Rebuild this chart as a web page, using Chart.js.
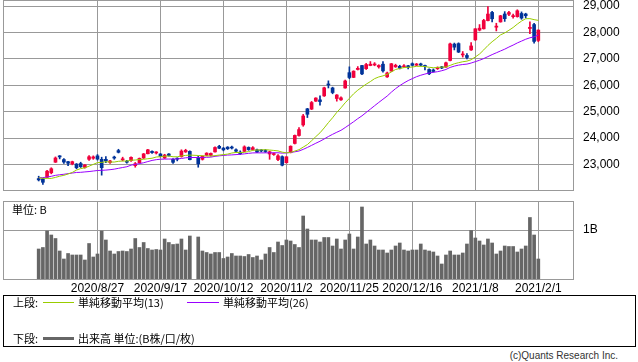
<!DOCTYPE html>
<html>
<head>
<meta charset="utf-8">
<script src="https://cdn.jsdelivr.net/npm/chart.js@4.4.1/dist/chart.umd.min.js"></script>
<style>
  body { margin: 0; width: 638px; height: 362px; background: #fff; position: relative; overflow: hidden;
         font-family: "Liberation Sans", Arial, "Noto Sans CJK JP", sans-serif; color: #000; }
  canvas { position: absolute; left: 0; }
  #price { top: 0; }
  #vol { top: 191px; }
  .txt { position: absolute; font-size: 11px; line-height: 13px; white-space: nowrap;
         font-family: "Noto Sans CJK JP", "Liberation Sans", sans-serif; }
  .ln { position: absolute; height: 1px; }
  #legend { position: absolute; left: 3px; top: 295px; width: 631px; height: 50px; border: 1px solid #000; }
  #copy { position: absolute; right: 20px; top: 350px; font-size: 10px; color: #333; font-family: "Liberation Sans", Arial, sans-serif; }
</style>
</head>
<body>
<canvas id="price" width="638" height="191"></canvas>
<canvas id="vol" width="638" height="104"></canvas>
<div class="txt" style="left:12px;top:203px;">単位: B</div>
<div id="legend"></div>
<div class="txt" style="left:13px;top:296px;">上段:</div>
<div class="ln" style="left:43px;top:302px;width:31px;background:#99cc00;"></div>
<div class="txt" style="left:78px;top:296px;">単純移動平均(13)</div>
<div class="ln" style="left:187px;top:302px;width:32px;background:#9900ff;"></div>
<div class="txt" style="left:223px;top:296px;">単純移動平均(26)</div>
<div class="txt" style="left:13px;top:332px;">下段:</div>
<div class="ln" style="left:43px;top:337px;width:31px;height:3px;background:#666;"></div>
<div class="txt" style="left:78px;top:332px;">出来高 単位:(B株/口/枚)</div>
<div id="copy">(c)Quants Research Inc.</div>
<script>
// 日付 (2020/8/6 〜 2021/2/1, 10/1 は売買停止)
const dates = [
  '2020/8/6','2020/8/7','2020/8/11','2020/8/12','2020/8/13','2020/8/14','2020/8/17','2020/8/18','2020/8/19','2020/8/20',
  '2020/8/21','2020/8/24','2020/8/25','2020/8/26','2020/8/27','2020/8/28','2020/8/31','2020/9/1','2020/9/2','2020/9/3',
  '2020/9/4','2020/9/7','2020/9/8','2020/9/9','2020/9/10','2020/9/11','2020/9/14','2020/9/15','2020/9/16','2020/9/17',
  '2020/9/18','2020/9/23','2020/9/24','2020/9/25','2020/9/28','2020/9/29','2020/9/30','2020/10/1','2020/10/2','2020/10/5',
  '2020/10/6','2020/10/7','2020/10/8','2020/10/9','2020/10/12','2020/10/13','2020/10/14','2020/10/15','2020/10/16','2020/10/19',
  '2020/10/20','2020/10/21','2020/10/22','2020/10/23','2020/10/26','2020/10/27','2020/10/28','2020/10/29','2020/10/30','2020/11/2',
  '2020/11/4','2020/11/5','2020/11/6','2020/11/9','2020/11/10','2020/11/11','2020/11/12','2020/11/13','2020/11/16','2020/11/17',
  '2020/11/18','2020/11/19','2020/11/20','2020/11/24','2020/11/25','2020/11/26','2020/11/27','2020/11/30','2020/12/1','2020/12/2',
  '2020/12/3','2020/12/4','2020/12/7','2020/12/8','2020/12/9','2020/12/10','2020/12/11','2020/12/14','2020/12/15','2020/12/16',
  '2020/12/17','2020/12/18','2020/12/21','2020/12/22','2020/12/23','2020/12/24','2020/12/25','2020/12/28','2020/12/29','2020/12/30',
  '2021/1/4','2021/1/5','2021/1/6','2021/1/7','2021/1/8','2021/1/12','2021/1/13','2021/1/14','2021/1/15','2021/1/18',
  '2021/1/19','2021/1/20','2021/1/21','2021/1/22','2021/1/25','2021/1/26','2021/1/27','2021/1/28','2021/1/29','2021/2/1'
];
const open = [
  22470,22460,22520,22690,23090,23330,23190,23110,23030,23020, 23040,22890,23200,23240,23330,23200,23200,23080,23260,23530,
  23180,23120,23150,22960,23070,23250,23410,23500,23440,23400, 23250,23400,23200,23230,23300,23480,23500,null,23270,23200,
  23350,23350,23480,23690,23620,23660,23660,23560,23470,23500, 23650,23570,23560,23540,23520,23400,23380,23190,23300,23070,
  23450,23800,24100,24500,25110,25100,25400,25450,25600,26050, 25900,25500,25450,25900,26480,26300,26600,26750,26630,26750,
  26770,26700,26800,26320,26540,26700,26720,26700,26740,26820, 26760,26810,26740,26600,26580,26630,26700,26690,26940,27560,
  27580,27150,27130,27340,27720,28090,28140,28450,28760,28200, 28400,28700,28690,28600,28600,28720,28700,28150,28300,27700
];
const high = [
  22560,22480,22780,22880,23290,23340,23230,23120,23130,23040, 23090,23000,23340,23330,23380,23280,23300,23160,23320,23580,
  23280,23160,23290,23080,23250,23420,23580,23520,23490,23420, 23390,23420,23230,23260,23560,23580,23520,null,23320,23330,
  23450,23440,23670,23730,23650,23680,23700,23600,23520,23710, 23670,23680,23590,23570,23570,23510,23440,23380,23330,23300,
  23710,24120,24400,24900,25130,25390,25530,25600,25930,26170, 25930,25650,25560,26200,26700,26550,26710,26760,26830,26900,
  26860,26780,26900,26500,26830,26800,26760,26790,26760,26850, 26830,26840,26770,26620,26620,26700,26720,26880,27600,27600,
  27610,27280,27200,27620,28150,28300,28500,28980,28800,28350, 28650,28790,28800,28700,28860,28780,28730,28400,28350,28100
];
const low = [
  22380,22250,22500,22650,23080,23215,23040,22960,22990,22840, 22890,22860,23160,23200,23170,22600,23070,23040,23200,23440,
  23140,23050,23120,22900,23050,23230,23400,23420,23400,23290, 23230,23320,23040,23140,23280,23460,23180,null,22900,23170,
  23330,23320,23470,23600,23520,23570,23590,23470,23380,23490, 23540,23550,23450,23480,23460,23200,23350,23150,22950,23060,
  23440,23780,24080,24450,24780,25080,25390,25250,25580,25900, 25680,25400,25430,25890,26250,26290,26580,26400,26600,26740,
  26740,26650,26500,26300,26530,26680,26620,26680,26620,26730, 26740,26730,26580,26400,26500,26600,26630,26680,26920,27340,
  27240,27070,27000,27320,27700,28060,28130,28440,28400,28060, 28390,28420,28640,28540,28580,28500,28550,27960,27600,27650
];
const close = [
  22420,22330,22750,22843,23250,23289,23096,23051,23110,22880, 22920,22985,23296,23290,23208,22882,23139,23138,23247,23465,
  23205,23089,23274,23032,23235,23406,23559,23454,23475,23319, 23360,23346,23087,23204,23511,23539,23185,null,23029,23312,
  23433,23422,23647,23619,23558,23601,23626,23507,23410,23671, 23567,23639,23474,23516,23494,23485,23418,23331,22977,23295,
  23695,24105,24325,24839,24905,25349,25520,25385,25906,26014, 25728,25634,25527,26165,26296,26537,26644,26433,26787,26800,
  26809,26751,26547,26467,26817,26756,26652,26732,26687,26757, 26806,26763,26714,26436,26524,26668,26656,26854,27568,27444,
  27258,27158,27055,27490,28139,28164,28456,28698,28519,28242, 28633,28523,28756,28631,28822,28546,28635,28197,27663,28091
];
// 出来高 (B)
const volume = [
  0.62,0.65,0.98,0.90,0.83,0.58,0.42,0.53,0.50,0.50, 0.50,0.40,0.73,0.46,0.52,0.98,0.80,0.58,0.52,0.57,
  0.58,0.57,0.62,0.83,0.65,0.75,0.63,0.60,0.61,0.60, 0.82,0.75,0.71,0.72,0.82,0.60,0.88,null,0.86,0.58,
  0.55,0.52,0.55,0.55,0.43,0.46,0.53,0.48,0.48,0.47, 0.51,0.45,0.48,0.40,0.52,0.65,0.55,0.76,0.69,0.80,
  0.78,0.71,0.65,1.28,1.02,0.80,0.80,0.76,0.85,0.85, 0.68,0.82,0.62,0.80,0.92,0.62,0.86,1.46,0.72,0.80,
  0.68,0.60,0.60,0.54,0.60,0.68,0.74,0.60,0.58,0.60, 0.60,0.72,0.60,0.58,0.56,0.48,0.32,0.50,0.58,0.50,
  0.50,0.54,0.72,0.99,0.84,0.78,0.70,0.82,0.74,0.52, 0.58,0.68,0.67,0.67,0.56,0.62,0.68,1.25,0.90,0.42
];
// 表示期間より前の終値 (移動平均の計算用, 2020/6/30〜8/5)
const preCloses = [
  22288,22121,22145,22306,22714,22614,22438,22529,22290,22784,22587,22945,22770,
  22696,22717,22884,22751,22715,22657,22397,22339,21710,22195,22573,22514
];
const tickDates = ['2020/8/27','2020/9/17','2020/10/12','2020/11/2','2020/11/25','2020/12/16','2021/1/8','2021/2/1'];
const priceTicks = [23000, 24000, 25000, 26000, 27000, 28000, 29000];

const UP = '#f0003c';
const DOWN = '#003399';
const GRID = '#999999';
const tickIdx = tickDates.map(d => dates.indexOf(d));
const candleColor = ctx => (close[ctx.dataIndex] >= open[ctx.dataIndex] ? UP : DOWN);

function sma(n) {
    const hist = preCloses.slice();
    return close.map((c, i) => {
        if (c == null) return { x: i, y: null };
        hist.push(c);
        const w = hist.slice(-n);
        return { x: i, y: w.reduce((a, b) => a + b, 0) / w.length };
    });
}

// 枠線
const frame = {
    id: 'frame',
    afterDraw(chart) {
        const a = chart.chartArea, ctx = chart.ctx;
        ctx.save();
        ctx.strokeStyle = GRID;
        ctx.lineWidth = 1;
        ctx.strokeRect(Math.round(a.left) + 0.5, Math.round(a.top) + 0.5, Math.round(a.right - a.left) - 1, Math.round(a.bottom - a.top) - 1);
        ctx.restore();
    }
};

// 軸ラベルの余白を消して描画領域を固定する
const fixWidth = s => { s.width = 64; s.paddingTop = 0; s.paddingBottom = 0; };

const xScale = (showLabels) => ({
    type: 'linear',
    min: -8.5,
    max: 127.5,
    offset: false,
    afterBuildTicks: s => { s.ticks = tickIdx.map(v => ({ value: v })); },
    afterFit: s => { s.height = showLabels ? 15 : 0; s.paddingLeft = 0; s.paddingRight = 0; },
    ticks: {
        display: showLabels,
        autoSkip: false,
        maxRotation: 0,
        padding: 1,
        color: '#000',
        font: { family: '"Liberation Sans", Arial, sans-serif', size: 12 },
        callback: v => dates[v]
    },
    grid: { color: GRID, drawTicks: false, offset: false },
    border: { display: false }
});

const font = { family: '"Liberation Sans", Arial, sans-serif', size: 12 };

new Chart(document.getElementById('price'), {
    type: 'bar',
    data: {
        datasets: [
            { type: 'line', data: sma(13), borderColor: '#99cc00', borderWidth: 1, pointRadius: 0, spanGaps: true, order: 0 },
            { type: 'line', data: sma(26), borderColor: '#9900ff', borderWidth: 1, pointRadius: 0, spanGaps: true, order: 0 },
            {
                data: close.map((c, i) => ({ x: i, y: c == null ? null : [open[i], c] })),
                backgroundColor: candleColor, barThickness: 3, minBarLength: 1, grouped: false, order: 1
            },
            {
                data: close.map((c, i) => ({ x: i, y: c == null ? null : [low[i], high[i]] })),
                backgroundColor: candleColor, barThickness: 1, grouped: false, order: 2
            }
        ]
    },
    options: {
        responsive: false,
        animation: false,
        events: [],
        layout: { padding: { left: 3, right: 0, top: 0, bottom: 0 } },
        plugins: { legend: { display: false }, tooltip: { enabled: false } },
        scales: {
            x: xScale(false),
            y: {
                position: 'right',
                min: 22000,
                max: 29230,
                afterBuildTicks: s => { s.ticks = priceTicks.map(v => ({ value: v })); },
                afterFit: fixWidth,
                ticks: { padding: 9, color: '#000', font: font, callback: v => v.toLocaleString('en-US') },
                grid: { color: GRID, drawTicks: false },
                border: { display: false }
            }
        }
    },
    plugins: [frame]
});

new Chart(document.getElementById('vol'), {
    type: 'bar',
    data: {
        datasets: [{
            data: volume.map((v, i) => ({ x: i, y: v })),
            backgroundColor: '#666666', barThickness: 3, grouped: false
        }]
    },
    options: {
        responsive: false,
        animation: false,
        events: [],
        layout: { padding: { left: 3, right: 0, top: 10, bottom: 0 } },
        plugins: { legend: { display: false }, tooltip: { enabled: false } },
        scales: {
            x: xScale(true),
            y: {
                position: 'right',
                min: 0,
                max: 1.58,
                afterBuildTicks: s => { s.ticks = [{ value: 1 }]; },
                afterFit: fixWidth,
                ticks: { padding: 9, color: '#000', font: font, callback: () => '1B' },
                grid: { color: GRID, drawTicks: false },
                border: { display: false }
            }
        }
    },
    plugins: [frame]
});
</script>
</body>
</html>
